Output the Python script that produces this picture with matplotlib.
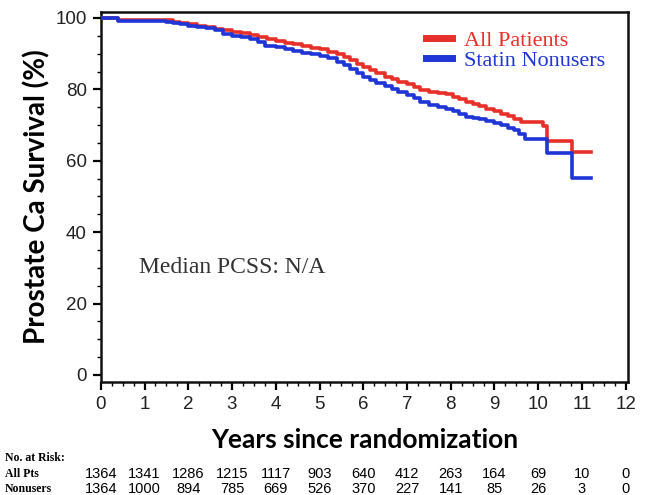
import matplotlib
matplotlib.use("Agg")
import matplotlib.pyplot as plt
from matplotlib.ticker import MultipleLocator
import matplotlib.transforms as mtransforms

# ---- data ----
all_t = [0, 0.4, 1.5, 1.65, 1.8, 2.0, 2.2, 2.4, 2.6, 2.8, 3.0, 3.2, 3.4, 3.6, 3.8, 4.0, 4.2,
         4.4, 4.6, 4.8, 5.0, 5.2, 5.4, 5.55, 5.7, 5.85, 6.0, 6.15, 6.3, 6.5, 6.65, 6.8, 7.0,
         7.15, 7.3, 7.5, 7.7, 7.9, 8.05, 8.2, 8.35, 8.5, 8.65, 8.8, 9.0, 9.15, 9.3, 9.45, 9.6,
         10.1, 10.2, 10.77, 11.2]
all_s = [100, 99.5, 99.3, 99.0, 98.6, 98.2, 97.8, 97.4, 97.0, 96.5, 96.1, 95.7, 95.2, 94.6,
         94.0, 93.5, 93.1, 92.7, 92.2, 91.7, 91.2, 90.6, 89.8, 89.0, 88.1, 87.2, 86.2, 85.3,
         84.5, 83.6, 82.9, 82.2, 81.4, 80.6, 79.9, 79.4, 79.1, 78.6, 77.9, 77.2, 76.5, 75.9,
         75.2, 74.5, 73.8, 73.0, 72.4, 71.8, 70.8, 69.8, 65.6, 62.5, 62.5]

non_t = [0, 0.4, 1.5, 1.65, 1.8, 2.0, 2.2, 2.4, 2.6, 2.8, 3.0, 3.2, 3.4, 3.6, 3.75, 4.0, 4.2,
         4.4, 4.6, 4.8, 5.0, 5.2, 5.4, 5.55, 5.7, 5.85, 6.0, 6.15, 6.3, 6.5, 6.65, 6.8, 7.0,
         7.15, 7.3, 7.5, 7.7, 7.9, 8.05, 8.2, 8.35, 8.5, 8.65, 8.8, 9.0, 9.15, 9.3, 9.45, 9.55,
         9.7, 10.2, 10.77, 11.2]
non_s = [100, 99.2, 99.0, 98.6, 98.2, 97.8, 97.5, 97.1, 96.5, 95.6, 95.0, 94.6, 94.0, 93.3,
         92.2, 91.8, 91.3, 90.8, 90.3, 89.8, 89.3, 88.7, 87.8, 86.8, 85.7, 84.6, 83.5, 82.6,
         81.8, 81.0, 80.2, 79.4, 78.5, 77.5, 76.5, 75.6, 75.0, 74.4, 73.8, 73.0, 72.3, 72.0,
         71.7, 71.2, 70.6, 70.0, 69.3, 68.5, 67.6, 66.0, 62.3, 55.3, 55.3]

risk_years = list(range(0, 13))
risk_all = [1364, 1341, 1286, 1215, 1117, 903, 640, 412, 263, 164, 69, 10, 0]
risk_non = [1364, 1000, 894, 785, 669, 526, 370, 227, 141, 85, 26, 3, 0]

series_names = ["All Patients", "Statin Nonusers"]
series_colors = ["#E8302A", "#1F35D6"]

narrow = ["Liberation Sans", "DejaVu Sans"]
serif = ["Liberation Serif", "DejaVu Serif"]
boldsans = ["Lato", "DejaVu Sans"]

fig = plt.figure(figsize=(6.46, 4.95), dpi=100)
ax = fig.add_axes([0.156, 0.228, 0.816, 0.748])

ax.plot(all_t, all_s, drawstyle="steps-post", color=series_colors[0], lw=2.6,
        label=series_names[0], zorder=3)
ax.plot(non_t, non_s, drawstyle="steps-post", color=series_colors[1], lw=2.6,
        label=series_names[1], zorder=4)

ax.set_xlim(0, 12.05)
ax.set_ylim(-2, 101.7)
ax.xaxis.set_major_locator(MultipleLocator(1))
ax.xaxis.set_minor_locator(MultipleLocator(0.25))
ax.yaxis.set_major_locator(MultipleLocator(20))
ax.yaxis.set_minor_locator(MultipleLocator(5))
ax.tick_params(which="major", direction="out", length=6, width=1.6, labelsize=13.5, pad=4)
ax.tick_params(which="minor", direction="out", length=3, width=1.0)
for lab in ax.get_xticklabels() + ax.get_yticklabels():
    lab.set_family(narrow)
    lab.set_color("#222222")
for sp in ax.spines.values():
    sp.set_linewidth(1.8)
    sp.set_color("#111111")

ax.set_ylabel("Prostate Ca Survival (%)", fontsize=20, fontweight="bold",
              family=boldsans, labelpad=4)
ax.set_xlabel("Years since randomization", fontsize=19, fontweight="bold",
              family=boldsans, labelpad=11)

leg = ax.legend(loc="upper right", bbox_to_anchor=(0.995, 1.005), frameon=False,
                prop={"family": serif, "size": 16}, handlelength=1.15,
                handletextpad=0.55, labelspacing=0.0)
for txt, c in zip(leg.get_texts(), series_colors):
    txt.set_color(c)
for h in leg.get_lines():
    h.set_linewidth(5)

ax.text(0.88, 30, "Median PCSS: N/A", family=serif, fontsize=17, color="#333333",
        va="center", ha="left")

# number at risk table
trans = mtransforms.blended_transform_factory(ax.transData, fig.transFigure)
fig.text(0.008, 0.075, "No. at Risk:", family=serif, fontsize=8.5, fontweight="bold",
         va="center", ha="left")
fig.text(0.008, 0.043, "All Pts", family=serif, fontsize=8.5, fontweight="bold",
         va="center", ha="left")
fig.text(0.008, 0.013, "Nonusers", family=serif, fontsize=8.5, fontweight="bold",
         va="center", ha="left")
for yr, a, n in zip(risk_years, risk_all, risk_non):
    ax.text(yr, 0.043, str(a), transform=trans, family=narrow, fontsize=10.5,
            ha="center", va="center", clip_on=False)
    ax.text(yr, 0.013, str(n), transform=trans, family=narrow, fontsize=10.5,
            ha="center", va="center", clip_on=False)

fig.savefig("out.png", dpi=100)
